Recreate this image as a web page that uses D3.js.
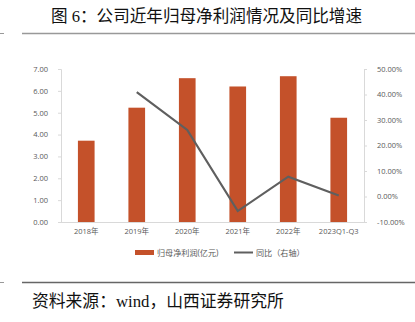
<!DOCTYPE html>
<html><head><meta charset="utf-8">
<script src="https://cdn.jsdelivr.net/npm/d3@7"></script>
<style>body{margin:0;background:#fff;}svg{display:block;}</style>
</head><body>
<svg id="c" width="415" height="322"></svg>
<script>
const categories = ["2018年","2019年","2020年","2021年","2022年","2023Q1-Q3"];
const profit = [3.72, 5.23, 6.58, 6.20, 6.67, 4.77];
const yoy = [null, 40.9, 26.1, -5.7, 7.8, 0.4];
const leftTicks = [0,1,2,3,4,5,6,7];
const rightTicks = [-10,0,10,20,30,40,50];
const title = "图 6：公司近年归母净利润情况及同比增速";
const source = "资料来源：wind，山西证券研究所";
const legendLabels = ["归母净利润(亿元)", "同比（右轴）"];

const svg = d3.select("#c");
const L = 61, R = 364, T = 69, B = 222;
const x = d3.scaleBand().domain(categories).range([L, R]).paddingInner(0.67).paddingOuter(0.335);
const yL = d3.scaleLinear().domain([0,7]).range([B,T]);
const yR = d3.scaleLinear().domain([-10,50]).range([B,T]);
const fontCJK = "'Liberation Serif','Noto Sans CJK SC',serif";
const fontAx = "'Open Sans','Noto Sans CJK SC',sans-serif";

svg.append("text").attr("x", 206.5).attr("y", 22).attr("text-anchor","middle")
  .attr("font-family", fontCJK).attr("font-size", 16.6).attr("fill","#111").text(title);
svg.append("line").attr("x1",0).attr("x2",4).attr("y1",33.5).attr("y2",33.5).attr("stroke","#999").attr("stroke-width",1);
svg.append("line").attr("x1",22).attr("x2",415).attr("y1",33.5).attr("y2",33.5).attr("stroke","#999").attr("stroke-width",1.5);
svg.append("line").attr("x1",0).attr("x2",4).attr("y1",282.5).attr("y2",282.5).attr("stroke","#999").attr("stroke-width",1);
svg.append("line").attr("x1",22).attr("x2",415).attr("y1",282.5).attr("y2",282.5).attr("stroke","#666").attr("stroke-width",1.5);
svg.append("text").attr("x", 32).attr("y", 306.5)
  .attr("font-family", fontCJK).attr("font-size", 16.8).attr("fill","#111").text(source);

// axes
const axL = svg.append("g").attr("transform",`translate(${L},0)`)
  .call(d3.axisLeft(yL).tickValues(leftTicks).tickFormat(d3.format(".2f")).tickSize(3).tickPadding(10));
const axR = svg.append("g").attr("transform",`translate(${R},0)`)
  .call(d3.axisRight(yR).tickValues(rightTicks).tickFormat(d => d.toFixed(2)+"%").tickSize(3).tickPadding(10));
const axB = svg.append("g").attr("transform",`translate(0,${B})`)
  .call(d3.axisBottom(x).tickSize(0).tickPadding(7));
[axL, axR, axB].forEach(g => {
  g.selectAll("path,line").attr("stroke","#d9d9d9");
  g.selectAll("text").attr("fill","#595959").attr("font-family",fontAx).attr("font-size",7.5);
});
axB.select("path.domain").attr("d", `M${L},0.5H${R}`);

// bars
svg.append("g").selectAll("rect").data(profit).join("rect")
  .attr("x",(d,i)=>x(categories[i])).attr("width",x.bandwidth())
  .attr("y",d=>yL(d)).attr("height",d=>yL(0)-yL(d)).attr("fill","#C4512A");

// line
const pts = yoy.map((v,i)=>({c:categories[i], v})).filter(d=>d.v!==null);
svg.append("path").datum(pts)
  .attr("d", d3.line().x(d=>x(d.c)+x.bandwidth()/2).y(d=>yR(d.v)))
  .attr("fill","none").attr("stroke","#5f5f5f").attr("stroke-width",2.2);

// legend
const lg = svg.append("g").attr("font-family",fontAx).attr("font-size",8.1).attr("fill","#595959");
lg.append("rect").attr("x",135).attr("y",250).attr("width",19).attr("height",5).attr("fill","#C4512A");
lg.append("text").attr("x",157).attr("y",255.5).text(legendLabels[0]);
lg.append("line").attr("x1",234).attr("x2",253).attr("y1",252.5).attr("y2",252.5).attr("stroke","#5f5f5f").attr("stroke-width",2);
lg.append("text").attr("x",256).attr("y",255.5).text(legendLabels[1]);
</script>
</body></html>
